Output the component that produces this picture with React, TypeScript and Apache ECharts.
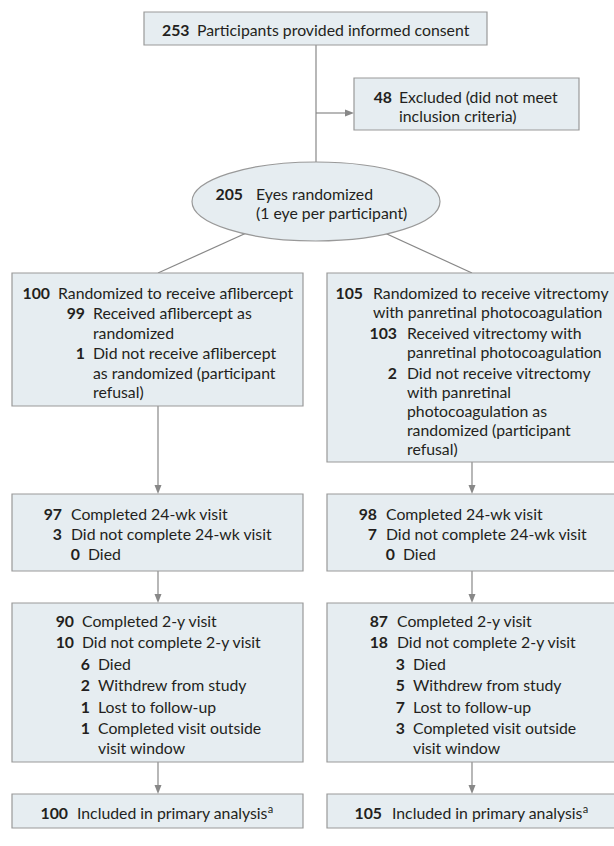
import React, { useEffect, useRef } from "react";
import * as echarts from "echarts";

type Item = { n: string; lines: string[]; level: number; sup?: string };

const consentItems: Item[] = [
  { n: "253", lines: ["Participants provided informed consent"], level: 0 },
];
const excludedItems: Item[] = [
  { n: "48", lines: ["Excluded (did not meet", "inclusion criteria)"], level: 0 },
];
const randomizedItems: Item[] = [
  { n: "205", lines: ["Eyes randomized", "(1 eye per participant)"], level: 0 },
];
const afliberceptAllocItems: Item[] = [
  { n: "100", lines: ["Randomized to receive aflibercept"], level: 0 },
  { n: "99", lines: ["Received aflibercept as", "randomized"], level: 1 },
  { n: "1", lines: ["Did not receive aflibercept", "as randomized (participant", "refusal)"], level: 1 },
];
const vitrectomyAllocItems: Item[] = [
  { n: "105", lines: ["Randomized to receive vitrectomy", "with panretinal photocoagulation"], level: 0 },
  { n: "103", lines: ["Received vitrectomy with", "panretinal photocoagulation"], level: 1 },
  { n: "2", lines: ["Did not receive vitrectomy", "with panretinal", "photocoagulation as", "randomized (participant", "refusal)"], level: 1 },
];
const aflibercept24wkItems: Item[] = [
  { n: "97", lines: ["Completed 24-wk visit"], level: 0 },
  { n: "3", lines: ["Did not complete 24-wk visit"], level: 0 },
  { n: "0", lines: ["Died"], level: 1 },
];
const vitrectomy24wkItems: Item[] = [
  { n: "98", lines: ["Completed 24-wk visit"], level: 0 },
  { n: "7", lines: ["Did not complete 24-wk visit"], level: 0 },
  { n: "0", lines: ["Died"], level: 1 },
];
const aflibercept2yItems: Item[] = [
  { n: "90", lines: ["Completed 2-y visit"], level: 0 },
  { n: "10", lines: ["Did not complete 2-y visit"], level: 0 },
  { n: "6", lines: ["Died"], level: 1 },
  { n: "2", lines: ["Withdrew from study"], level: 1 },
  { n: "1", lines: ["Lost to follow-up"], level: 1 },
  { n: "1", lines: ["Completed visit outside", "visit window"], level: 1 },
];
const vitrectomy2yItems: Item[] = [
  { n: "87", lines: ["Completed 2-y visit"], level: 0 },
  { n: "18", lines: ["Did not complete 2-y visit"], level: 0 },
  { n: "3", lines: ["Died"], level: 1 },
  { n: "5", lines: ["Withdrew from study"], level: 1 },
  { n: "7", lines: ["Lost to follow-up"], level: 1 },
  { n: "3", lines: ["Completed visit outside", "visit window"], level: 1 },
];
const afliberceptAnalysisItems: Item[] = [
  { n: "100", lines: ["Included in primary analysis"], level: 0, sup: "a" },
];
const vitrectomyAnalysisItems: Item[] = [
  { n: "105", lines: ["Included in primary analysis"], level: 0, sup: "a" },
];

const FONT = "Lato, 'Noto Sans', sans-serif";
const FS = 15.8;
const TEXT = "#231f20";
const FILL = "#e6edf1";
const BORDER = "#999999";
const LINE = "#888888";

function textBlock(
  items: Item[],
  nx: number[],
  tx: number[],
  y0: number,
  within = 19.5,
  between = 21
): any[] {
  const out: any[] = [];
  let y = y0;
  items.forEach((it, i) => {
    if (i > 0) y += between;
    out.push({
      type: "text",
      z: 20,
      x: nx[it.level],
      y,
      style: {
        text: it.n,
        fontFamily: FONT,
        fontSize: FS,
        fontWeight: "bold",
        fill: TEXT,
        textAlign: "right",
        textVerticalAlign: "middle",
        align: "right",
        verticalAlign: "middle",
      },
    });
    it.lines.forEach((ln, j) => {
      if (j > 0) y += within;
      const isLast = j === it.lines.length - 1;
      const txt = isLast && it.sup ? ln + "{sup|" + it.sup + "}" : ln;
      out.push({
        type: "text",
        z: 20,
        x: tx[it.level],
        y,
        style: {
          text: txt,
          fontFamily: FONT,
          fontSize: FS,
          fill: TEXT,
          textAlign: "left",
          textVerticalAlign: "middle",
          align: "left",
          verticalAlign: "middle",
          lineHeight: 18,
          rich: {
            sup: {
              fontFamily: FONT,
              fontSize: 11,
              fill: TEXT,
              lineHeight: 9,
              verticalAlign: "top",
            },
          },
        },
      });
    });
  });
  return out;
}

function box(x: number, y: number, w: number, h: number): any {
  return {
    type: "rect",
    z: 10,
    shape: { x, y, width: w, height: h },
    style: { fill: FILL, stroke: BORDER, lineWidth: 1.2 },
  };
}

function line(x1: number, y1: number, x2: number, y2: number): any {
  return {
    type: "line",
    z: 5,
    shape: { x1, y1, x2, y2 },
    style: { stroke: LINE, lineWidth: 1.2 },
  };
}

function arrowDown(x: number, y1: number, tip: number): any[] {
  return [
    line(x, y1, x, tip - 6),
    {
      type: "polygon",
      z: 6,
      shape: { points: [[x - 3.5, tip - 9], [x + 3.5, tip - 9], [x, tip]] },
      style: { fill: LINE },
    },
  ];
}

function arrowRight(x1: number, y: number, tip: number): any[] {
  return [
    line(x1, y, tip - 6, y),
    {
      type: "polygon",
      z: 6,
      shape: { points: [[tip - 9, y - 3.5], [tip - 9, y + 3.5], [tip, y]] },
      style: { fill: LINE },
    },
  ];
}

export default function App() {
  const ref = useRef<HTMLDivElement>(null);
  useEffect(() => {
    if (!ref.current) return;
    const chart = echarts.init(ref.current, undefined, { renderer: "svg" });
    const L = 12;
    const R = 327;
    const W = 291;
    const elements: any[] = [
      // connectors
      line(316, 45, 316, 165),
      ...arrowRight(316, 113, 354),
      line(158, 273, 316, 201.5),
      line(472, 273, 316, 201.5),
      ...arrowDown(158, 406, 494),
      ...arrowDown(472, 462, 494),
      ...arrowDown(158, 571, 603),
      ...arrowDown(472, 571, 603),
      ...arrowDown(158, 762, 794),
      ...arrowDown(472, 762, 794),
      // boxes
      box(144, 12, 343, 33),
      box(354, 78, 225, 52),
      {
        type: "ellipse",
        z: 10,
        shape: { cx: 316, cy: 201.5, rx: 124, ry: 39.5 },
        style: { fill: FILL, stroke: BORDER, lineWidth: 1.2 },
      },
      box(L, 273, W, 133),
      box(R, 273, W, 189),
      box(L, 494, W, 77),
      box(R, 494, W, 77),
      box(L, 603, W, 159),
      box(R, 603, W, 159),
      box(L, 794, W, 34),
      box(R, 794, W, 34),
      // texts
      ...textBlock(consentItems, [189.5], [197], 29),
      ...textBlock(excludedItems, [392], [399], 96.5, 18.5),
      ...textBlock(randomizedItems, [243], [256], 193, 19),
      ...textBlock(afliberceptAllocItems, [50, 85], [58, 93], 292, 19.5, 20.5),
      ...textBlock(vitrectomyAllocItems, [363, 397], [373, 407], 292, 19.2, 20.8),
      ...textBlock(aflibercept24wkItems, [62, 80], [71, 88], 513, 20, 20),
      ...textBlock(vitrectomy24wkItems, [377, 395], [386, 403], 513, 20, 20),
      ...textBlock(aflibercept2yItems, [74, 90], [82, 98], 620, 20, 21.5),
      ...textBlock(vitrectomy2yItems, [388, 405], [397, 413], 620, 20, 21.5),
      ...textBlock(afliberceptAnalysisItems, [68], [77], 812),
      ...textBlock(vitrectomyAnalysisItems, [382], [392], 812),
    ];
    chart.setOption({ animation: false, graphic: { elements } });
    return () => chart.dispose();
  }, []);
  return (
    <div
      ref={ref}
      style={{ position: "fixed", left: 0, top: 0, width: 614, height: 846, background: "#fff" }}
    />
  );
}
